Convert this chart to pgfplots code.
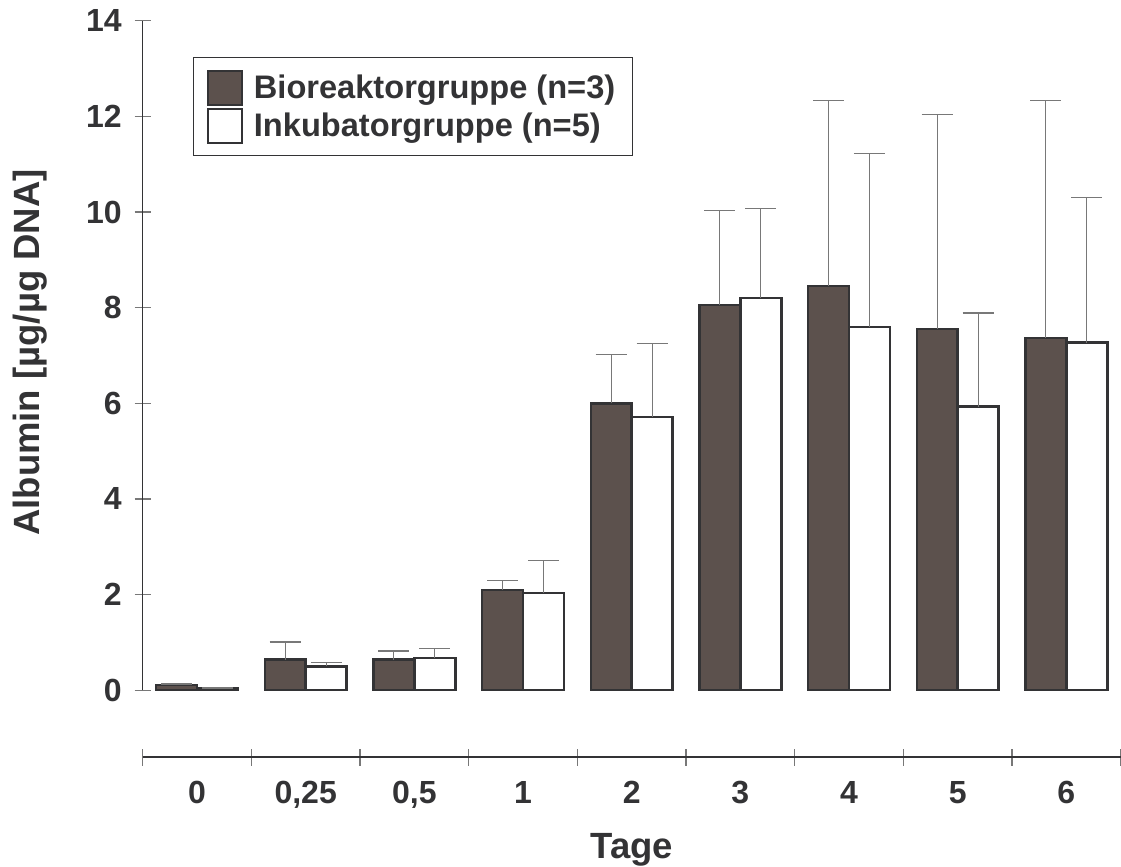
\documentclass[border=0pt]{standalone}
\usepackage{fontspec}
\setmainfont{Liberation Sans}
\usepackage{pgfplots}
\pgfplotsset{compat=1.18}

\definecolor{barfill}{RGB}{92,81,77}
\definecolor{ink}{RGB}{51,51,53}
\definecolor{errgray}{RGB}{120,120,120}

% mean values and upward error (SD)
\pgfplotstableread{
x   y     e
0   0.11  0.02
1   0.64  0.37
2   0.64  0.18
3   2.10  0.20
4   6.00  1.02
5   8.05  1.98
6   8.45  3.88
7   7.56  4.48
8   7.37  4.96
}\bioreaktor
\pgfplotstableread{
x   y     e
0   0.04  0.01
1   0.50  0.08
2   0.67  0.20
3   2.03  0.68
4   5.72  1.53
5   8.20  1.88
6   7.60  3.63
7   5.93  1.96
8   7.27  3.04
}\inkubator

\begin{document}
\begin{tikzpicture}
\path[use as bounding box] (-71.35pt,10.35pt) rectangle (489.15pt,-423.15pt);

% separate category axis below the bars
\begin{axis}[
    at={(0,0)}, anchor=north west,
    scale only axis,
    width=489pt, height=368.15pt,
    xmin=-0.5, xmax=8.5,
    ymin=-1.3945, ymax=14,
    axis x line*=bottom,
    axis y line=none,
    axis line style={ink, line width=0.8pt},
    xtick={0,...,8},
    xticklabels={0,{0,25},{0,5},1,2,3,4,5,6},
    major tick length=0pt,
    minor xtick={-0.5,0.5,...,8.5},
    minor tick length=8.5pt,
    tick align=center,
    minor tick style={errgray, line width=0.6pt},
    xticklabel style={font=\bfseries\fontsize{16}{19}\selectfont, text=ink, yshift=-8.7pt},
    xlabel={Tage},
    xlabel style={at={(axis description cs:0.5,0)}, anchor=north, yshift=-34.5pt,
        font=\bfseries\fontsize{18.25}{22}\selectfont, text=ink},
]
\end{axis}

% bars
\begin{axis}[
    at={(0,0)}, anchor=north west,
    scale only axis,
    width=489pt, height=334.8pt,
    xmin=-0.5, xmax=8.5,
    ymin=0, ymax=14,
    axis x line=none,
    axis y line*=left,
    axis line style={ink, line width=0.8pt},
    xtick=\empty,
    ytick={0,2,...,14},
    tick align=center,
    major tick length=8pt,
    major tick style={errgray, line width=0.6pt},
    /pgf/number format/assume math mode=true,
    yticklabel style={font=\bfseries\fontsize{16}{19}\selectfont, text=ink, xshift=-3pt},
    ylabel={Albumin [µg/µg DNA]},
    ylabel style={at={(axis description cs:-0.1155,0.5045)}, anchor=center,
        font=\bfseries\fontsize{18.25}{22}\selectfont, text=ink},
    ybar=0pt,
    bar width=20.48pt,
    legend style={
        at={(0.0514,0.9458)}, anchor=north west,
        draw=ink, line width=0.75pt,
        font=\bfseries\fontsize{16.3}{19}\selectfont, text=ink,
        inner xsep=6.5pt, inner ysep=6pt,
        row sep=1pt,
        cells={anchor=west},
    },
    legend image code/.code={
        \draw[#1, line width=1pt] (0pt,-8.5pt) rectangle (17pt,8.5pt);
        \path (20.5pt,0pt);
    },
    error bars/error bar style={errgray, line width=0.6pt},
    error bars/error mark options={rotate=90, errgray, line width=0.6pt, mark size=7.75pt},
]
\addplot[fill=barfill, draw=ink, line width=1.2pt,
    error bars/.cd, y dir=plus, y explicit]
    table[x=x, y=y, y error=e] {\bioreaktor};
\addlegendentry{Bioreaktorgruppe (n=3)}

\addplot[fill=white, draw=ink, line width=1.2pt,
    error bars/.cd, y dir=plus, y explicit]
    table[x=x, y=y, y error=e] {\inkubator};
\addlegendentry{Inkubatorgruppe (n=5)}
\end{axis}
\end{tikzpicture}
\end{document}
